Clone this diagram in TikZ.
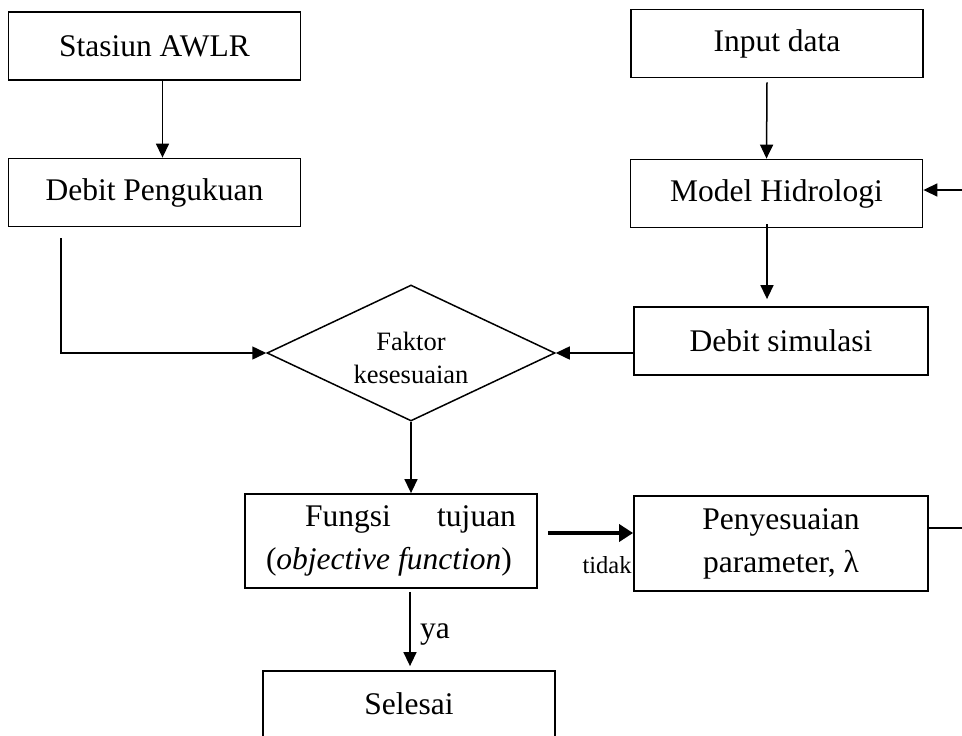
\documentclass[tikz,border=0pt]{standalone}
\usepackage{fontspec}
\setmainfont{Liberation Serif}
\usetikzlibrary{arrows.meta,shapes.geometric}
\begin{document}
\begin{tikzpicture}[x=1pt,y=-1pt,
  box/.style={draw,line width=1.8pt,rectangle,inner sep=0pt,minimum width=292pt,minimum height=68pt,font=\fontsize{31.5}{43}\selectfont,align=center},
  arr/.style={line width=1.5pt,-{Triangle[length=14pt,width=13pt]}},
  line/.style={line width=1.5pt}]
\useasboundingbox (0,0) rectangle (962,736);
\clip (0,0) rectangle (962,736);
\fill[white] (0,0) rectangle (962,736);
\node[box] (st) at (154.5,46) {Stasiun AWLR};
\node[box] (dp) at (154.5,192.5) {Debit Pengukuan};
\node[box] (in) at (777,43.5) {Input data};
\node[box] (mh) at (776.5,193.5) {Model Hidrologi};
\node[box,minimum width=294pt] (ds) at (781,341) {Debit simulasi};
\node[draw,line width=1.5pt,diamond,aspect=2.1,inner sep=0pt,minimum width=288pt,minimum height=136pt] (dia) at (411,353) {};
\node[font=\fontsize{26.5}{33}\selectfont,align=center,inner sep=0pt] (diatxt) at (411,358) {Faktor\\kesesuaian};
\node[box,minimum height=94pt,align=left] (fu) at (391,541)
  {\makebox[250pt][l]{\hspace*{39pt}Fungsi\hfill tujuan}\\(\textit{objective function})};
\node[box,minimum width=294pt,minimum height=95pt] (pe) at (781,543.5) {Penyesuaian\\parameter, λ};
\node[box,minimum height=70pt] (se) at (409,706) {\raisebox{4pt}{Selesai}};
% connectors
\draw[arr] ([xshift=8pt]st.south) -- ([xshift=8pt]dp.north);
\draw[arr] ([xshift=-10pt,yshift=-4pt]in.south) -- ([xshift=-10pt]mh.north);
\draw[arr] ([xshift=-9.5pt,yshift=4pt]mh.south) -- ([xshift=-14pt,yshift=7pt]ds.north);
\draw[arr] ([xshift=-93.5pt,yshift=-11pt]dp.south) |- (dia.west);
\draw[arr] (ds.west |- dia.east) -- (dia.east);
\draw[arr] (dia.south) -- (dia.south |- fu.north);
\coordinate (pin) at ([yshift=10.5pt]pe.west);
\draw[line width=3.5pt,-{Triangle[length=14pt,width=17pt]}] ([xshift=10pt]fu.east |- pin) -- (pin);
\node[font=\fontsize{24.5}{30}\selectfont,inner sep=0pt] (tidak) at (607,565) {tidak};
\draw[arr] ([xshift=19pt,yshift=-3pt]fu.south) -- ([xshift=1pt,yshift=4pt]se.north);
\node[font=\fontsize{31.5}{40}\selectfont,inner sep=0pt,anchor=west] (ya) at (420,635) {ya};
\draw[arr] ([yshift=15.5pt]pe.east) -- ++(45,0) |- ([yshift=3.5pt]mh.east);
\end{tikzpicture}
\end{document}
